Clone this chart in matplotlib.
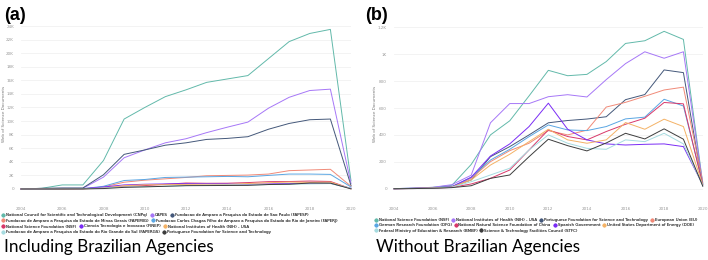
import numpy as np
import matplotlib.pyplot as plt
from matplotlib.lines import Line2D

years = list(range(2004, 2021))

# panel (a): including Brazilian agencies (values in documents)
names_a = [
    "National Council for Scientific and Technological Development (CNPq)",
    "CAPES",
    "Fundacao de Amparo a Pesquisa do Estado de Sao Paulo (FAPESP)",
    "Fundacao de Amparo a Pesquisa do Estado de Minas Gerais (FAPEMIG)",
    "Fundacao Carlos Chagas Filho de Amparo a Pesquisa do Estado do Rio de Janeiro (FAPERJ)",
    "National Science Foundation (NSF)",
    "Ciencia Tecnologia e Inovacao (FINEP)",
    "National Institutes of Health (NIH) - USA",
    "Fundacao de Amparo a Pesquisa do Estado do Rio Grande do Sul (FAPERGS)",
    "Portuguese Foundation for Science and Technology",
]
cnpq = [0, 100, 600, 600, 4200, 10300, 12000, 13600, 14600, 15700, 16200, 16700, 19200, 21700, 22900, 23500, 1200]
capes = [0, 50, 100, 100, 1750, 4600, 5750, 6800, 7400, 8300, 9100, 9850, 11900, 13500, 14500, 14700, 800]
fapesp = [0, 100, 150, 150, 2100, 5100, 5750, 6450, 6800, 7300, 7450, 7700, 8800, 9650, 10200, 10300, 500]
fapemig = [0, 10, 30, 40, 300, 1000, 1300, 1500, 1700, 1950, 2000, 2050, 2200, 2700, 2800, 2900, 400]
faperj = [0, 10, 30, 40, 400, 1250, 1400, 1700, 1750, 1800, 1850, 1800, 2000, 2200, 2200, 2150, 300]
nsf_a = [0, 5, 10, 25, 180, 400, 500, 690, 880, 840, 850, 945, 1080, 1100, 1170, 1110, 40]
finep = [0, 0, 50, 50, 300, 600, 700, 750, 800, 800, 750, 700, 750, 800, 850, 850, 100]
nih_a = [0, 5, 10, 30, 100, 490, 630, 630, 680, 700, 680, 810, 930, 1020, 970, 1020, 40]
fapergs = [0, 0, 20, 30, 150, 300, 350, 400, 500, 550, 600, 600, 650, 700, 750, 800, 100]
fct_a = [0, 2, 5, 15, 65, 240, 310, 400, 490, 505, 520, 535, 660, 700, 880, 860, 20]
series_a = [cnpq, capes, fapesp, fapemig, faperj, nsf_a, finep, nih_a, fapergs, fct_a]

# panel (b): without Brazilian agencies
names_b = [
    "National Science Foundation (NSF)",
    "National Institutes of Health (NIH) - USA",
    "Portuguese Foundation for Science and Technology",
    "European Union (EU)",
    "German Research Foundation (DFG)",
    "National Natural Science Foundation of China",
    "Spanish Government",
    "United States Department of Energy (DOE)",
    "Federal Ministry of Education & Research (BMBF)",
    "Science & Technology Facilities Council (STFC)",
]
nsf = [0, 5, 10, 25, 180, 400, 505, 690, 880, 840, 850, 945, 1080, 1100, 1170, 1110, 40]
nih = [0, 5, 10, 30, 100, 490, 633, 633, 684, 699, 682, 811, 930, 1018, 970, 1018, 40]
fct = [0, 2, 5, 15, 65, 238, 313, 400, 490, 507, 518, 535, 662, 700, 883, 863, 20]
eu = [0, 2, 5, 12, 77, 201, 283, 338, 432, 400, 435, 607, 642, 687, 734, 755, 50]
dfg = [0, 2, 5, 15, 85, 213, 293, 387, 474, 437, 432, 462, 519, 532, 665, 615, 40]
nsfc = [0, 1, 3, 10, 35, 77, 139, 288, 437, 388, 363, 425, 479, 524, 641, 631, 30]
spain = [0, 2, 5, 15, 85, 243, 333, 462, 636, 442, 363, 333, 325, 330, 333, 313, 30]
doe = [0, 2, 5, 12, 65, 176, 256, 350, 442, 363, 338, 363, 492, 442, 517, 462, 30]
bmbf = [0, 1, 4, 10, 52, 102, 152, 288, 400, 338, 300, 293, 363, 350, 412, 333, 25]
stfc = [0, 1, 3, 8, 22, 77, 102, 238, 368, 320, 281, 340, 412, 370, 445, 368, 20]
series_b = [nsf, nih, fct, eu, dfg, nsfc, spain, doe, bmbf, stfc]

colors = ["#62b9aa", "#a677f7", "#44587a", "#f08a78", "#5aa6e3",
          "#d8386a", "#7a2cf5", "#f4b266", "#a6dbe0", "#3d3d3d"]

W, H = 708, 260
fig = plt.figure(figsize=(7.08, 2.6), dpi=100)


def style(ax, ticks, labels, lx):
    ax.set_xlim(2004, 2020)
    ax.set_xticks(range(2004, 2021, 2))
    ax.set_yticks(ticks)
    ax.set_yticklabels(labels)
    ax.tick_params(length=0, labelsize=3, colors="#999999", pad=5)
    ax.grid(axis="y", color="#eeeeee", lw=0.5)
    ax.set_axisbelow(True)
    for s in ax.spines.values():
        s.set_visible(False)
    fig.text(lx / W, 1 - 114 / H, "Web of Science Documents", rotation=90,
             fontsize=3, color="#777777", ha="center", va="center")


ax_a = fig.add_axes([21 / W, 1 - 200 / H, 330 / W, 174 / H])
for vals, c in zip(series_a, colors):
    ax_a.plot(years, vals, color=c, lw=0.7, clip_on=False)
ax_a.set_ylim(-1620, 24000)
ticks_a = list(range(0, 24001, 2000))
style(ax_a, ticks_a, ["0"] + [f"{t // 1000}K" for t in ticks_a[1:]], 4)

ax_b = fig.add_axes([394 / W, 1 - 200 / H, 308.7 / W, 172.7 / H])
for vals, c in zip(series_b, colors):
    ax_b.plot(years, vals, color=c, lw=0.7, clip_on=False)
ax_b.set_ylim(-84, 1200)
style(ax_b, [0, 200, 400, 600, 800, 1000, 1200],
      ["0", "200", "400", "600", "800", "1K", "1.2K"], 375)


def legend_rows(names, rows, x0, ys, sp):
    for idx, y in zip(rows, ys):
        hs = [Line2D([], [], marker="o", ls="none", ms=1.8, color=colors[i]) for i in idx]
        lg = fig.legend(hs, [names[i] for i in idx], loc="center left",
                        bbox_to_anchor=(x0 / W, 1 - y / H), ncol=len(idx),
                        frameon=False, fontsize=2.9, handlelength=0.6,
                        handletextpad=0.4, columnspacing=sp, borderpad=0,
                        borderaxespad=0, labelcolor="#444444")
        fig.add_artist(lg)


legend_rows(names_a, [[0, 1, 2], [3, 4], [5, 6, 7], [8, 9]], 1.5, [215, 220.7, 226.5, 232.3], 0.9)
legend_rows(names_b, [[0, 1, 2, 3], [4, 5, 6, 7], [8, 9]], 374.5, [220, 225.4, 230.8], 0.7)

fig.text(4 / W, 1 - 20 / H, "(a)", fontsize=13, fontweight="bold", family="Liberation Sans")
fig.text(365 / W, 1 - 20 / H, "(b)", fontsize=13, fontweight="bold", family="Liberation Sans")
fig.text(4 / W, 1 - 252 / H, "Including Brazilian Agencies", fontsize=12.3, family="Lato", va="baseline")
fig.text(376 / W, 1 - 252 / H, "Without Brazilian Agencies", fontsize=12.3, family="Lato", va="baseline")

fig.savefig("out.png", dpi=100)
